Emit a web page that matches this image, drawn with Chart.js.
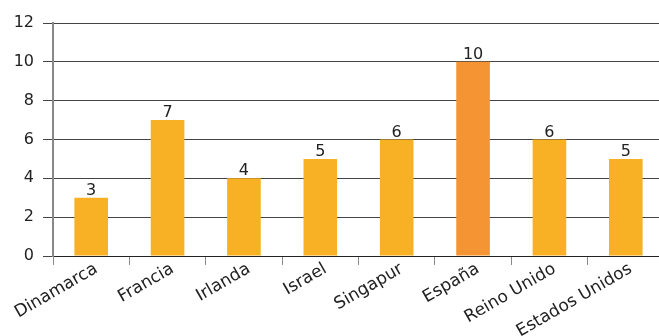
<!DOCTYPE html>
<html>
<head>
<meta charset="utf-8">
<script src="https://cdn.jsdelivr.net/npm/chart.js@4/dist/chart.umd.min.js"></script>
<style>
  html, body { margin: 0; padding: 0; background: #fff; overflow: hidden; }
  #wrap { width: 659px; height: 336px; overflow: hidden; position: relative; }
  canvas { position: absolute; left: 0; top: 0; }
</style>
</head>
<body>
<div id="wrap"><canvas id="chart" width="664" height="336"></canvas></div>
<script>
const PAISES = ['Dinamarca', 'Francia', 'Irlanda', 'Israel', 'Singapur', 'España', 'Reino Unido', 'Estados Unidos'];
const VALORES = [3, 7, 4, 5, 6, 10, 6, 5];
const Y_TICKS = [0, 2, 4, 6, 8, 10, 12];

const COLOR_BAR = '#F8B024';
const COLOR_SPAIN = '#F59432';
const TEXT_COLOR = '#222222';
const FONT = 'DejaVu Sans, Verdana, sans-serif';

let barColors = PAISES.map(p => (p === 'España') ? COLOR_SPAIN : COLOR_BAR);

// numbers above the bars
const valueLabels = {
	id: 'valueLabels',
	afterDatasetsDraw: (chart) => {
		const { ctx } = chart;
		const meta = chart.getDatasetMeta(0);
		ctx.save();
		ctx.fillStyle = TEXT_COLOR;
		ctx.font = '16px ' + FONT;
		ctx.textAlign = 'center';
		ctx.textBaseline = 'bottom';
		meta.data.forEach((bar, i) => {
			ctx.fillText(String(VALORES[i]), bar.x, bar.y + 1);
		});
		ctx.restore();
	}
};

new Chart(document.getElementById('chart'), {
	type: 'bar',
	data: {
		labels: PAISES,
		datasets: [{
			data: VALORES,
			backgroundColor: barColors,
			borderWidth: 0,
			barPercentage: 0.44,
			categoryPercentage: 1.0,
		}]
	},
	options: {
		responsive: false,
		animation: false,
		layout: {
			padding: { top: 23, right: 0, left: 0, bottom: 0 }
		},
		plugins: {
			legend: { display: false },
			tooltip: { enabled: false },
		},
		scales: {
			x: {
				afterFit: (scale) => { scale.height = 80; },
				grid: {
					display: true,
					drawOnChartArea: false,
					drawTicks: true,
					tickLength: 9,
					color: '#888888',
				},
				border: { color: '#222222', width: 1 },
				ticks: {
					color: TEXT_COLOR,
					font: { family: FONT, size: 17 },
					minRotation: 30,
					maxRotation: 30,
					padding: -6,
					labelOffset: 5,
				},
			},
			y: {
				min: 0,
				max: 12,
				afterFit: (scale) => { scale.width = 53; },
				afterBuildTicks: (scale) => { scale.ticks = Y_TICKS.map(v => ({ value: v })); },
				grid: {
					color: '#444444',
					tickLength: 10,
				},
				border: { color: '#888888', width: 2 },
				ticks: {
					color: TEXT_COLOR,
					font: { family: FONT, size: 16 },
					padding: 9,
				},
			}
		}
	},
	plugins: [valueLabels]
});
</script>
</body>
</html>
